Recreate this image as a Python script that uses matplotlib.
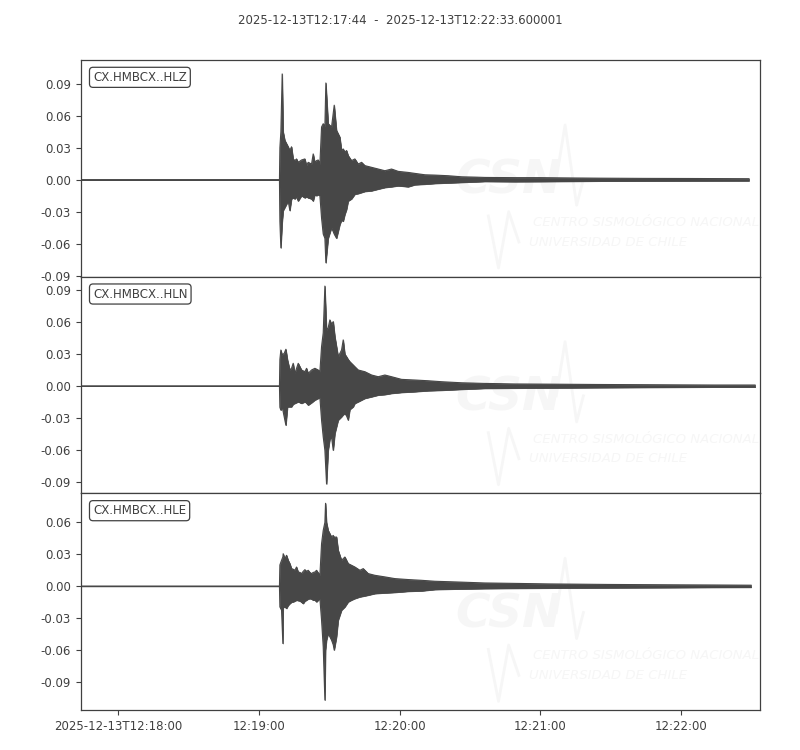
import matplotlib
matplotlib.use("Agg")
import matplotlib.pyplot as plt

# ---------------------------------------------------------------
# Datos (segundos desde 2025-12-13T12:17:44)
# envolvente superior / inferior de cada traza
# ---------------------------------------------------------------
titulo = "2025-12-13T12:17:44  -  2025-12-13T12:22:33.600001"
duracion = 289.6

etiquetas = ["CX.HMBCX..HLZ", "CX.HMBCX..HLN", "CX.HMBCX..HLE"]

t_hlz = [0, 84.7, 84.88, 85.30, 85.87, 86.30, 87.01, 88.43, 89.14, 89.85, 90.56, 91.27,
         91.98, 92.70, 94.12, 95.54, 96.25, 96.96, 98.38, 99.09, 99.80, 100.51, 101.23,
         101.94, 102.65, 103.36, 104.07, 104.49, 105.49, 106.91, 108.05, 109.04, 110.47,
         111.18, 111.89, 112.60, 113.31, 114.02, 115.44, 116.86, 118.28, 119.71, 121.13,
         123.97, 126.82, 129.66, 132.50, 135.35, 139.61, 142.45, 146.72, 150.98, 156.67,
         162.36, 168.05, 172.31, 185.0, 195.8, 210.0, 221.4, 240.0, 260.0, 284.9]
sup_hlz = [0, 0, 0.030, 0.045, 0.0995, 0.045, 0.037, 0.031, 0.0275, 0.031, 0.0196, 0.018,
           0.0196, 0.0164, 0.0186, 0.0196, 0.0133, 0.0164, 0.0148, 0.0243, 0.0164, 0.018,
           0.0186, 0.0148, 0.0496, 0.0527, 0.050, 0.091, 0.0527, 0.0496, 0.0701, 0.0464,
           0.040, 0.0275, 0.029, 0.0259, 0.0275, 0.0227, 0.018, 0.0196, 0.0148, 0.0164,
           0.0133, 0.0117, 0.0101, 0.0085, 0.0101, 0.0079, 0.0069, 0.006, 0.0047, 0.0044,
           0.0038, 0.0028, 0.0025, 0.0022, 0.002, 0.002, 0.0017, 0.0015, 0.0013, 0.0012,
           0.001]
inf_hlz = [0, 0, -0.039, -0.064, -0.040, -0.029, -0.026, -0.020, -0.029, -0.018, -0.017,
           -0.018, -0.016, -0.020, -0.015, -0.017, -0.016, -0.017, -0.018, -0.020, -0.014,
           -0.015, -0.014, -0.015, -0.036, -0.051, -0.055, -0.078, -0.055, -0.045, -0.051,
           -0.055, -0.042, -0.038, -0.039, -0.0325, -0.028, -0.020, -0.018, -0.0136,
           -0.013, -0.012, -0.011, -0.0104, -0.0088, -0.0073, -0.0066, -0.0057, -0.0066,
           -0.0047, -0.0042, -0.0035, -0.003, -0.0025, -0.002, -0.0016, -0.0018, -0.0017,
           -0.0015, -0.0013, -0.0012, -0.0011, -0.001]

t_hln = [0, 84.7, 84.88, 85.30, 85.87, 86.72, 87.44, 88.15, 89.14, 89.85, 90.56, 91.27,
         92.70, 94.12, 95.54, 96.25, 96.96, 98.38, 99.80, 101.23, 101.94, 102.65, 103.36,
         104.07, 104.78, 105.49, 106.20, 106.91, 107.63, 108.34, 109.76, 111.18, 111.89,
         112.60, 113.31, 114.02, 114.73, 116.15, 116.86, 118.28, 121.13, 123.97, 126.82,
         129.66, 132.50, 136.77, 142.45, 148.14, 153.83, 162.36, 172.31, 185.0, 200.0,
         220.0, 250.0, 270.0, 287.5]
sup_hln = [0, 0, 0.025, 0.0339, 0.0292, 0.0308, 0.0346, 0.0245, 0.0151, 0.0167, 0.0214,
           0.0119, 0.0214, 0.0151, 0.0135, 0.0167, 0.0119, 0.0151, 0.0167, 0.0151, 0.0135,
           0.0371, 0.050, 0.094, 0.0528, 0.055, 0.0622, 0.058, 0.0606, 0.0465, 0.0276,
           0.0339, 0.0434, 0.030, 0.0276, 0.025, 0.0229, 0.0198, 0.0182, 0.0151, 0.0135,
           0.0104, 0.0088, 0.0104, 0.0088, 0.0063, 0.0057, 0.005, 0.0041, 0.0031, 0.0025,
           0.002, 0.0018, 0.0015, 0.0012, 0.001, 0.001]
inf_hln = [0, 0, -0.020, -0.0226, -0.0195, -0.0289, -0.0368, -0.0195, -0.0195, -0.0195,
           -0.017, -0.0163, -0.0148, -0.0163, -0.0148, -0.016, -0.0179, -0.0157, -0.0132,
           -0.0116, -0.0107, -0.032, -0.0478, -0.0603, -0.092, -0.0603, -0.050, -0.0478,
           -0.0603, -0.0446, -0.032, -0.0289, -0.027, -0.0258, -0.028, -0.032, -0.022,
           -0.0195, -0.0163, -0.0148, -0.0116, -0.0101, -0.0085, -0.008, -0.0069, -0.006,
           -0.0053, -0.0044, -0.004, -0.0031, -0.0022, -0.002, -0.0018, -0.0015, -0.0012,
           -0.001, -0.001]

t_hle = [0, 84.7, 84.88, 85.59, 86.15, 86.30, 87.01, 87.72, 88.43, 89.14, 89.85, 90.56,
         91.27, 91.98, 92.70, 93.41, 94.12, 94.83, 95.54, 96.25, 96.96, 97.67, 98.38,
         99.09, 99.80, 100.51, 101.94, 102.65, 103.36, 104.07, 104.35, 104.78, 105.49,
         106.91, 107.63, 108.05, 109.04, 109.76, 111.18, 112.60, 114.02, 115.44, 116.86,
         119.00, 120.42, 122.55, 125.39, 129.66, 133.92, 139.61, 145.30, 150.98, 159.51,
         172.31, 185.0, 200.0, 225.0, 250.0, 270.0, 285.8]
sup_hle = [0, 0, 0.020, 0.0244, 0.0275, 0.0306, 0.0259, 0.0291, 0.0244, 0.0213, 0.0166,
           0.016, 0.015, 0.0181, 0.0134, 0.013, 0.0119, 0.014, 0.0156, 0.014, 0.015, 0.013,
           0.0119, 0.013, 0.0134, 0.015, 0.0103, 0.040, 0.0525, 0.060, 0.078, 0.060,
           0.0525, 0.0463, 0.0478, 0.046, 0.0463, 0.0338, 0.0244, 0.0275, 0.0213, 0.0197,
           0.0181, 0.015, 0.0166, 0.0119, 0.0103, 0.0088, 0.0072, 0.0063, 0.0056, 0.0047,
           0.0041, 0.0031, 0.0027, 0.0022, 0.0017, 0.0014, 0.0012, 0.001]
inf_hle = [0, 0, -0.0194, -0.0225, -0.0538, -0.020, -0.0194, -0.0209, -0.018, -0.0163,
           -0.015, -0.0147, -0.014, -0.0131, -0.0135, -0.0138, -0.015, -0.0163, -0.014,
           -0.0131, -0.012, -0.0116, -0.012, -0.0131, -0.013, -0.0147, -0.0116, -0.0319,
           -0.0569, -0.107, -0.060, -0.0506, -0.0444, -0.0506, -0.055, -0.060, -0.0475,
           -0.0319, -0.0225, -0.0194, -0.0147, -0.013, -0.0116, -0.010, -0.0094, -0.0084,
           -0.0069, -0.0063, -0.0058, -0.0048, -0.0044, -0.0031, -0.0027, -0.0022, -0.002,
           -0.0018, -0.0015, -0.0013, -0.0011, -0.001]

tiempos = [t_hlz, t_hln, t_hle]
superiores = [sup_hlz, sup_hln, sup_hle]
inferiores = [inf_hlz, inf_hln, inf_hle]

ticks_x = [16, 76, 136, 196, 256]
etiquetas_x = ["2025-12-13T12:18:00", "12:19:00", "12:20:00", "12:21:00", "12:22:00"]
ticks_y = [[-0.09, -0.06, -0.03, 0.0, 0.03, 0.06, 0.09],
           [-0.09, -0.06, -0.03, 0.0, 0.03, 0.06, 0.09],
           [-0.09, -0.06, -0.03, 0.0, 0.03, 0.06]]

# ---------------------------------------------------------------
color_traza = "#474747"
color_texto = "#404040"
color_marca = "#f6f6f6"

plt.rcParams["font.family"] = ["DejaVu Sans"]
plt.rcParams["font.size"] = 8.5

fig = plt.figure(figsize=(8, 7.5), dpi=100)
fig.text(0.5, 0.973, titulo, ha="center", va="center", color=color_texto, fontsize=8.5)

# escala igual para las tres trazas (como obspy equal_scale)
rango = max(max(s) - min(i) for s, i in zip(superiores, inferiores))
medio_rango = rango / 2 * 1.095

izq, der, arriba, abajo = 0.101, 0.95, 0.92, 0.0533
alto = (arriba - abajo) / 3

for k in range(3):
    ax = fig.add_axes([izq, arriba - (k + 1) * alto, der - izq, alto])
    t, s, i = tiempos[k], superiores[k], inferiores[k]

    # marca de agua CSN (muy tenue)
    ax.text(0.552, 0.44, "CSN", transform=ax.transAxes, fontsize=34, fontweight="bold",
            fontstyle="italic", color=color_marca, ha="left", va="center", zorder=0)
    ax.plot([0.70, 0.713, 0.73, 0.74], [0.45, 0.70, 0.33, 0.45], transform=ax.transAxes,
            color=color_marca, lw=2, zorder=0)
    ax.plot([0.60, 0.615, 0.63, 0.645], [0.28, 0.04, 0.30, 0.16], transform=ax.transAxes,
            color=color_marca, lw=2, zorder=0)
    ax.text(0.666, 0.25, "CENTRO SISMOLÓGICO NACIONAL", transform=ax.transAxes,
            fontsize=9.5, fontstyle="italic", color=color_marca, ha="left", va="center",
            zorder=0)
    ax.text(0.66, 0.16, "UNIVERSIDAD DE CHILE", transform=ax.transAxes,
            fontsize=9.5, fontstyle="italic", color=color_marca, ha="left", va="center",
            zorder=0)

    ax.fill_between(t, i, s, color=color_traza, lw=0.5, zorder=2)
    ax.plot(t, s, color=color_traza, lw=0.8, zorder=2)
    ax.plot(t, i, color=color_traza, lw=0.8, zorder=2)

    centro = (max(s) + min(i)) / 2
    ax.set_ylim(centro - medio_rango, centro + medio_rango)
    ax.set_xlim(0, duracion)
    ax.set_yticks(ticks_y[k])
    ax.set_yticklabels(["%.2f" % v for v in ticks_y[k]])
    ax.set_xticks(ticks_x)
    if k == 2:
        ax.set_xticklabels(etiquetas_x)
    else:
        ax.set_xticklabels([])
    ax.tick_params(colors=color_texto, labelsize=8.5, length=3.5)
    for lado in ax.spines.values():
        lado.set_color("#404040")
        lado.set_linewidth(0.9)

    ax.text(0.018, 0.95, etiquetas[k], transform=ax.transAxes, ha="left", va="top",
            color=color_texto, fontsize=8.5, zorder=5,
            bbox=dict(boxstyle="round,pad=0.3", fc="white", ec="#404040", lw=0.9))

fig.savefig("out.png", dpi=100)
